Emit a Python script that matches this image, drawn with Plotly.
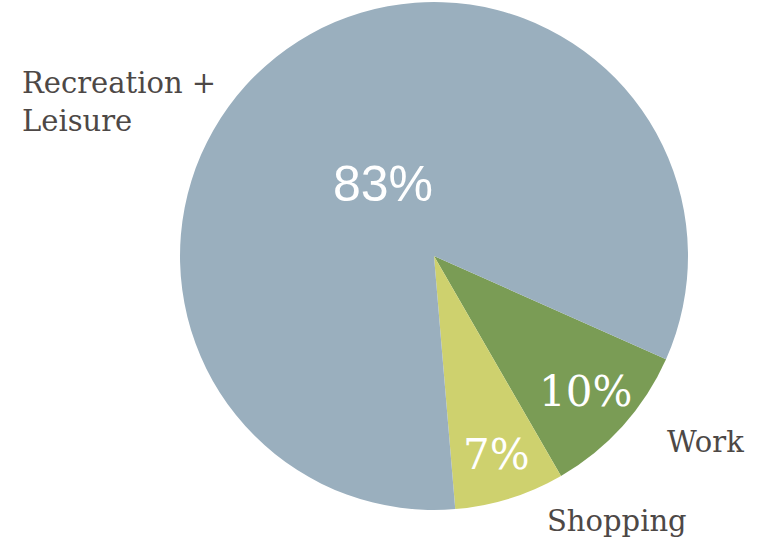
import math
import plotly.graph_objects as go

# Share of trips by purpose
purposes = ["Work", "Shopping", "Recreation +<br>Leisure"]
shares = [10, 7, 83]
colors = ["#7A9C55", "#CED16E", "#9AAFBE"]

W, H = 759, 541
cx, cy, r = 434, 256, 254  # pie centre and radius in pixels
start_angle = 114          # degrees clockwise from 12 o'clock

fig = go.Figure(
    go.Pie(
        labels=purposes,
        values=shares,
        sort=False,
        direction="clockwise",
        rotation=start_angle,
        marker=dict(colors=colors, line=dict(width=0)),
        textposition="none",
        showlegend=False,
        hoverinfo="label+percent",
        domain=dict(
            x=[(cx - r) / W, (cx + r) / W],
            y=[(H - cy - r) / H, (H - cy + r) / H],
        ),
    )
)

# Percentage labels placed at each slice's mid-angle
pct_style = [
    dict(family="DejaVu Serif", size=42, frac=0.80),
    dict(family="DejaVu Serif", size=42, frac=0.82),
    dict(family="Liberation Sans", size=50, frac=0.35),
]
total = sum(shares)
cum = 0
for val, st in zip(shares, pct_style):
    mid = math.radians(start_angle + 360 * (cum + val / 2) / total)
    cum += val
    px = cx + st["frac"] * r * math.sin(mid)
    py = cy - st["frac"] * r * math.cos(mid)
    fig.add_annotation(
        text=f"{round(100 * val / total)}%", x=px / W, y=1 - py / H,
        xref="paper", yref="paper", xanchor="center", yanchor="middle",
        showarrow=False,
        font=dict(family=st["family"], size=st["size"], color="white"),
    )

label_font = dict(family="DejaVu Serif", size=29, color="#4D4846")
fig.add_annotation(text="Recreation +<br>Leisure", x=20 / W, y=1 - 64 / H,
                   xref="paper", yref="paper", xanchor="left", yanchor="top",
                   align="left", showarrow=False, font=label_font)
fig.add_annotation(text="Work", x=746 / W, y=1 - 442 / H,
                   xref="paper", yref="paper", xanchor="right", yanchor="middle",
                   showarrow=False, font=label_font)
fig.add_annotation(text="Shopping", x=545 / W, y=1 - 521 / H,
                   xref="paper", yref="paper", xanchor="left", yanchor="middle",
                   showarrow=False, font=label_font)

fig.update_layout(
    width=W, height=H,
    margin=dict(l=0, r=0, t=0, b=0),
    paper_bgcolor="white",
    plot_bgcolor="white",
)

fig.write_html("out.html")
